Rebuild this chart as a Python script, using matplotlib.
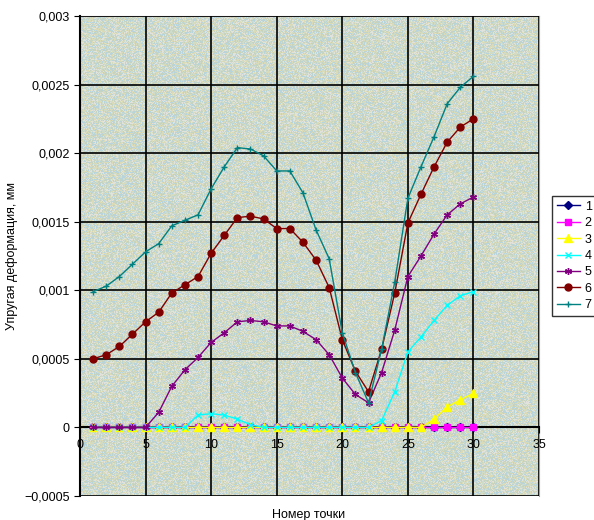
import matplotlib
matplotlib.use("Agg")
import matplotlib.pyplot as plt
import numpy as np
from matplotlib.ticker import FuncFormatter, MultipleLocator

plt.rcParams['font.family'] = ['Liberation Sans', 'DejaVu Sans']

x = np.arange(1, 31)

s1 = [0.0] * 30
s2 = [0.0] * 30
s3 = [0]*26 + [0.00006, 0.00015, 0.00020, 0.00025]
s4 = [0, 0, 0, 0, 0, 0, 0, 0, 0.00009, 0.00010, 0.00009, 0.00006, 0.00002, 0, 0,
      0, 0, 0, 0, 0, 0, 0, 0.00005, 0.00026, 0.00055, 0.00066, 0.00078, 0.00089, 0.00096, 0.00099]
s5 = [0, 0, 0, 0, 0, 0.00011, 0.00030, 0.00042, 0.00051, 0.00062, 0.00069, 0.00077, 0.00078, 0.00077, 0.00074,
      0.00074, 0.00070, 0.00064, 0.00053, 0.00036, 0.00024, 0.00018, 0.00040, 0.00071, 0.00110,
      0.00125, 0.00141, 0.00155, 0.00163, 0.00168]
s6 = [0.00050, 0.00053, 0.00059, 0.00068, 0.00077, 0.00084, 0.00098, 0.00104, 0.00110, 0.00127,
      0.00140, 0.00153, 0.00154, 0.00152, 0.00145, 0.00145, 0.00135, 0.00122, 0.00102, 0.00064,
      0.00041, 0.00026, 0.00057, 0.00098, 0.00149, 0.00170, 0.00190, 0.00208, 0.00219, 0.00225]
s7 = [0.00099, 0.00103, 0.00110, 0.00119, 0.00128, 0.00134, 0.00147, 0.00151, 0.00155, 0.00174,
      0.00190, 0.00204, 0.00203, 0.00198, 0.00187, 0.00187, 0.00171, 0.00144, 0.00123, 0.00069,
      0.00040, 0.00018, 0.00057, 0.00106, 0.00167, 0.00190, 0.00212, 0.00236, 0.00248, 0.00256]

series = [s1, s2, s3, s4, s5, s6, s7]
labels = ['1', '2', '3', '4', '5', '6', '7']
colors = ['#000080', '#ff00ff', '#ffff00', '#00ffff', '#800080', '#800000', '#008080']
markers = ['D', 's', '^', 'x', (6, 2, 0), 'o', '+']
msizes = [4, 5, 6, 5, 5, 5, 5]

fig = plt.figure(figsize=(5.94, 5.2), dpi=100)
ax = fig.add_axes([0.1347, 0.0462, 0.7727, 0.9231])

# granite-like speckle texture of the Excel plot area
rng = np.random.default_rng(3)
speck = np.array([[0.80, 0.86, 0.80],
                  [0.86, 0.86, 0.72],
                  [0.72, 0.83, 0.86],
                  [0.78, 0.83, 0.76],
                  [0.88, 0.89, 0.86]])
idx = rng.integers(0, len(speck), (480, 460))
tex = speck[idx]
ax.imshow(tex, extent=[0, 1, 0, 1], transform=ax.transAxes, aspect='auto',
          interpolation='nearest', zorder=0)

for s, lab, c, m, ms in zip(series, labels, colors, markers, msizes):
    ax.plot(x, s, color=c, marker=m, markersize=ms, lw=1.0, label=lab,
            markeredgecolor=c, markerfacecolor=c, zorder=3)

ax.set_xlim(0, 35)
ax.set_ylim(-0.0005, 0.003)
ax.xaxis.set_major_locator(MultipleLocator(5))
ax.yaxis.set_major_locator(MultipleLocator(0.0005))
ax.grid(True, color='black', lw=1.2, zorder=1)
ax.set_axisbelow(False)

def yfmt(v, pos):
    if abs(v) < 1e-12:
        return '0'
    t = ('%.4f' % v).rstrip('0').replace('.', ',')
    return t.replace('-', '\u2212')

ax.yaxis.set_major_formatter(FuncFormatter(yfmt))
ax.spines['bottom'].set_position(('data', 0))
ax.spines['bottom'].set_linewidth(1.5)
ax.spines['left'].set_linewidth(1.5)
for sp in ['top', 'right']:
    ax.spines[sp].set_color('#a0a0a0')
ax.tick_params(axis='both', labelsize=9, length=4, direction='out')
ax.tick_params(axis='x', pad=4)

ax.set_ylabel('Упругая деформация, мм', fontsize=9)
ax.yaxis.set_label_coords(-0.135, 0.5)
fig.text(0.52, 0.022, 'Номер точки', fontsize=9, ha='center', va='top')

leg = ax.legend(loc='center left', bbox_to_anchor=(1.015, 0.50), frameon=True,
                fontsize=9, fancybox=False, edgecolor='black', handlelength=1.8,
                borderpad=0.4, labelspacing=0.35, handletextpad=0.4)
leg.get_frame().set_linewidth(1.0)

fig.savefig('out.png', dpi=100)
